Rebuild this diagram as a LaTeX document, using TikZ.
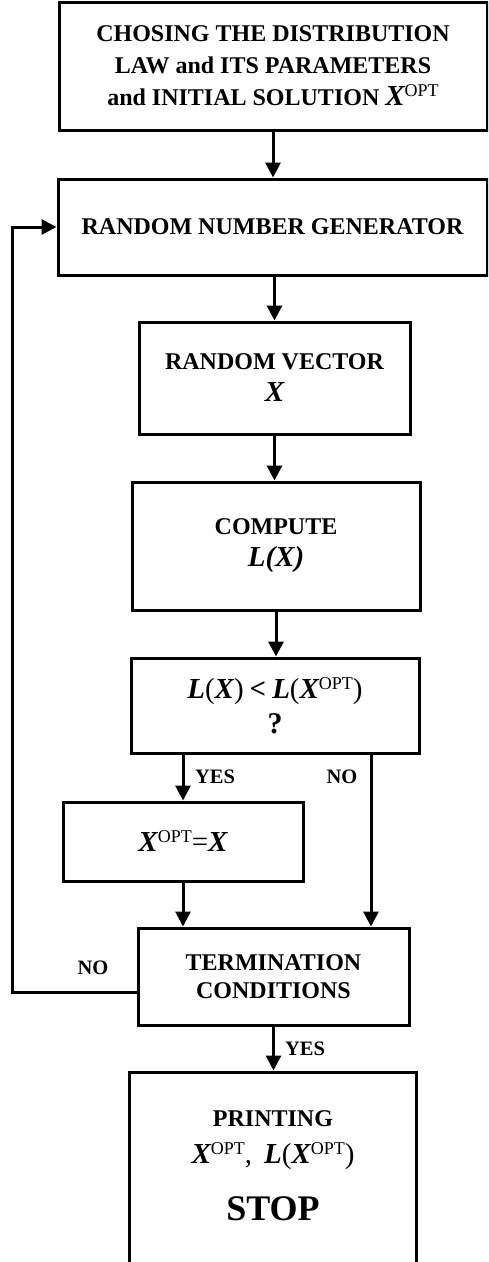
\documentclass[tikz,border=0pt]{standalone}
\usepackage{fontspec}
\setmainfont{Liberation Serif}
\usetikzlibrary{arrows.meta}
\newcommand\mybm[1]{{\fontsize{29}{29}\selectfont\bfseries\itshape #1}}
\newcommand\myup[1]{{\fontsize{29}{29}\selectfont\mdseries\upshape #1}}
\newcommand\sOPT{\raisebox{9pt}{\fontsize{18}{18}\selectfont\mdseries\upshape OPT}}
\tikzset{
  box/.style={draw, line width=3pt, inner sep=0pt, align=center,
    font=\fontsize{24}{32}\selectfont\bfseries},
  arr/.style={line width=3pt, -{Triangle[length=15pt,width=15pt]}},
  lbl/.style={font=\fontsize{20.5}{24}\selectfont\bfseries, inner sep=0pt}
}
\begin{document}
\begin{tikzpicture}[x=1pt,y=-1pt]
\useasboundingbox (0,0) rectangle (488,1262);
\clip (0,0) rectangle (488,1262);
\fill[white] (0,0) rectangle (488,1262);
\node[box, minimum width=428pt, minimum height=128pt] (b1) at (273,66)
  {CHOSING THE DISTRIBUTION\\LAW and ITS PARAMETERS\\and INITIAL SOLUTION \mybm{X}\sOPT};
\node[box, minimum width=429pt, minimum height=96pt] (b2) at (272.5,227)
  {RANDOM NUMBER GENERATOR};
\node[box, minimum width=271pt, minimum height=112pt] (b3) at (274.5,378)
  {RANDOM VECTOR\\\mybm{X}};
\node[box, minimum width=288pt, minimum height=128pt] (b4) at (276,546)
  {COMPUTE\\\mybm{L(X)}};
\node[box, minimum width=288pt, minimum height=95pt] (b5) at (275,705.5)
  {\mybm{L}\myup{(}\mybm{X}\myup{)} \mybm{\upshape<} \mybm{L}\myup{(}\mybm{X}\sOPT\myup{)}\\[3pt]{\fontsize{30}{30}\selectfont ?}};
\node[box, minimum width=240pt, minimum height=79pt] (b6) at (183,841.5)
  {\mybm{X}\sOPT\myup{=}\mybm{X}};
\node[box, minimum width=271pt, minimum height=97pt, font=\fontsize{24}{28}\selectfont\bfseries] (b7) at (273.5,976.5)
  {TERMINATION\\CONDITIONS};
\node[box, minimum width=287pt, minimum height=228pt] (b8) at (272.5,1186) {};
\node[align=center, inner sep=0pt, font=\fontsize{24}{37}\selectfont\bfseries] (t8) at (273,1166)
  {PRINTING\\\mybm{X}\sOPT\myup{,}\ \ \mybm{L}\myup{(}\mybm{X}\sOPT\myup{)}\\[20pt]{\fontsize{36}{36}\selectfont STOP}};
\coordinate (nx) at (371,0);
\coordinate (L) at (12,600);
\draw[arr] (b1.south) -- (b1.south |- b2.north);
\draw[arr] (b3.north |- b2.south) -- (b3.north);
\draw[arr] (b3.south) -- (b3.south |- b4.north);
\draw[arr] (b4.south) -- (b4.south |- b5.north);
\draw[arr] (b6.north |- b5.south) -- (b6.north);
\draw[arr] (nx |- b5.south) -- (nx |- b7.north);
\draw[arr] (b6.south) -- (b6.south |- b7.north);
\draw[arr] (b7.south) -- (b7.south |- b8.north);
\draw[arr] ([yshift=-15.5pt]b7.west) -| (L) |- (b2.west);
\node[lbl] (yes1) at (215,777) {YES};
\node[lbl] (no1) at (342,777) {NO};
\node[lbl] (no2) at (93,968) {NO};
\node[lbl] (yes2) at (305,1049) {YES};
\end{tikzpicture}
\end{document}
